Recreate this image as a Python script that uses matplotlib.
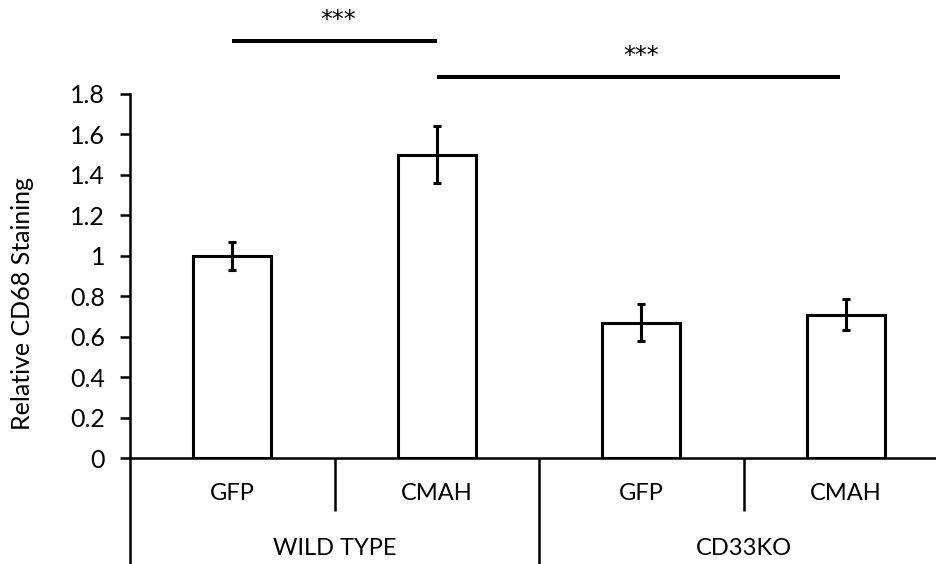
import matplotlib
matplotlib.use("Agg")
import matplotlib.pyplot as plt

# Bar chart of relative CD68 staining with two-level category axis
groups = ["WILD TYPE", "CD33KO"]
conditions = ["GFP", "CMAH", "GFP", "CMAH"]
values = [1.00, 1.50, 0.67, 0.71]
errors = [0.07, 0.14, 0.09, 0.077]
yticks = [0, 0.2, 0.4, 0.6, 0.8, 1, 1.2, 1.4, 1.6, 1.8]
ytick_labels = ["0", "0.2", "0.4", "0.6", "0.8", "1", "1.2", "1.4", "1.6", "1.8"]

plt.rcParams["font.family"] = ["Lato", "DejaVu Sans"]
FS = 18

W, H = 936, 564
fig = plt.figure(figsize=(W / 100, H / 100), dpi=100)
ax = fig.add_axes([130 / W, (H - 458.3) / H, 4 * 204.5 / W, (458.3 - 94) / H])

x = list(range(len(values)))
ax.bar(x, values, width=0.38, color="white", edgecolor="black", linewidth=2.2, zorder=2)
ax.errorbar(x, values, yerr=errors, fmt="none", ecolor="black", elinewidth=2.2,
            capsize=3, capthick=2.2, zorder=3)

ax.set_xlim(-0.5, 3.5)
ax.set_ylim(0, 1.8)
ax.set_yticks(yticks)
ax.set_yticklabels(ytick_labels)
ax.set_xticks([])
ax.tick_params(axis="y", direction="out", length=7, width=1.8, pad=11, labelsize=FS)

for side in ("top", "right"):
    ax.spines[side].set_visible(False)
ax.spines["left"].set_linewidth(1.8)
ax.spines["bottom"].set_linewidth(1.8)

# Category labels below the axis
tx = ax.get_xaxis_transform()
for xi, lab in zip(x, conditions):
    ax.text(xi, -0.096, lab, transform=tx, ha="center", va="center", fontsize=17)
for gi, g in enumerate(groups):
    ax.text(2 * gi + 0.5, -0.247, g, transform=tx, ha="center", va="center", fontsize=17)

# Separator lines between categories and groups
ybottom = -(564 - 458.3) / (458.3 - 94)
for sx in (0.5, 2.5):
    ax.plot([sx, sx], [0, -0.1456], transform=tx, color="black", lw=1.8,
            clip_on=False, solid_capstyle="butt")
for sx in (-0.5, 1.5):
    ax.plot([sx, sx], [0, ybottom], transform=tx, color="black", lw=1.8,
            clip_on=False, solid_capstyle="butt")

# Significance brackets
ax.plot([0, 1], [2.062, 2.062], color="black", lw=2.9, clip_on=False, solid_capstyle="butt")
ax.text(0.52, 2.165, "***", ha="center", va="center", fontsize=17,
        family="DejaVu Sans", clip_on=False)
ax.plot([1, 2.97], [1.884, 1.884], color="black", lw=2.9, clip_on=False, solid_capstyle="butt")
ax.text(2.0, 1.986, "***", ha="center", va="center", fontsize=17,
        family="DejaVu Sans", clip_on=False)

fig.text(23 / W, 1 - 303 / H, "Relative CD68 Staining", rotation=90,
         ha="center", va="center", fontsize=FS)

fig.savefig("out.png", dpi=100, facecolor="white")
